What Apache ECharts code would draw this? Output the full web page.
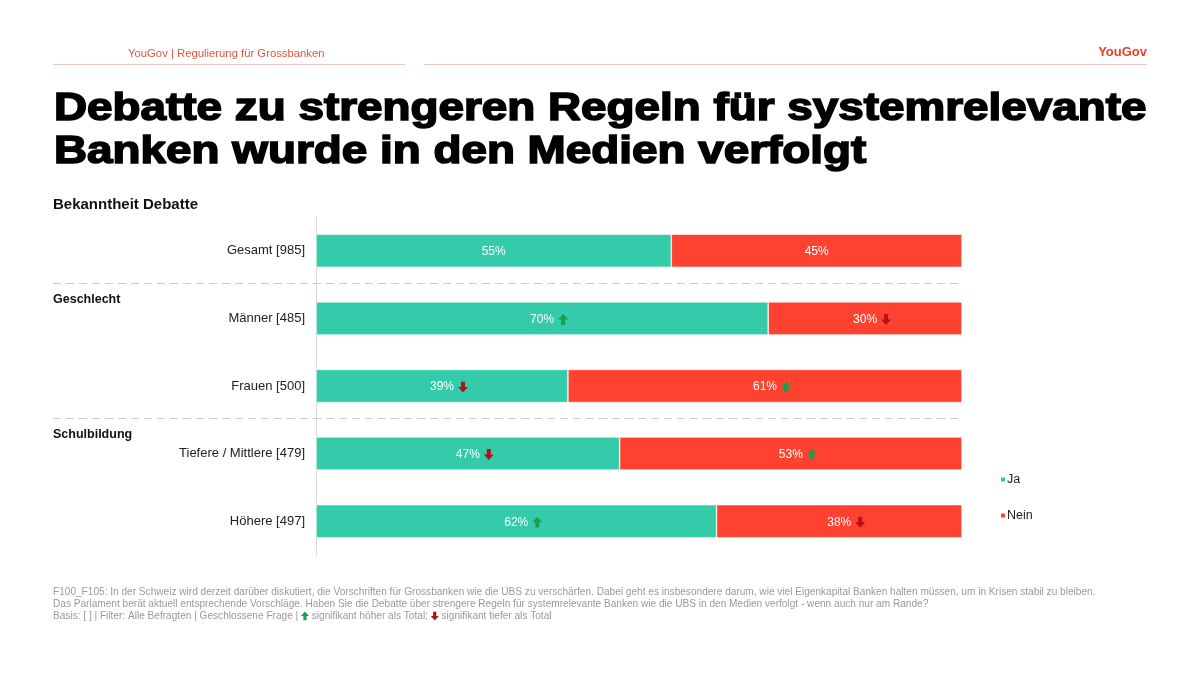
<!DOCTYPE html>
<html>
<head>
<meta charset="utf-8">
<script src="https://cdn.jsdelivr.net/npm/echarts@6/dist/echarts.min.js"></script>
<style>
html,body{margin:0;padding:0;background:#fff;}
#c{width:1200px;height:674px;}
</style>
</head>
<body>
<div id="c"></div>
<script>
const categories = ['Gesamt [985]', 'Männer [485]', 'Frauen [500]', 'Tiefere / Mittlere [479]', 'Höhere [497]'];
const jaValues = [55, 70, 39, 47, 62];
const neinValues = [45, 30, 61, 53, 38];
// significance markers: 1 = higher than total, -1 = lower than total, 0 = none
const jaSig = [0, 1, -1, -1, 1];
const neinSig = [0, -1, 1, 1, -1];

const upSvg = '<svg xmlns="http://www.w3.org/2000/svg" width="10" height="11" viewBox="0 0 10 11"><polygon points="5,0 10,5.5 7,5.5 7,11 3,11 3,5.5 0,5.5" fill="#1c9e50"/></svg>';
const downSvg = '<svg xmlns="http://www.w3.org/2000/svg" width="10" height="11" viewBox="0 0 10 11"><polygon points="3,0 7,0 7,5.5 10,5.5 5,11 0,5.5 3,5.5" fill="#b3121a"/></svg>';
const upURI = 'data:image/svg+xml;charset=utf-8,' + encodeURIComponent(upSvg);
const downURI = 'data:image/svg+xml;charset=utf-8,' + encodeURIComponent(downSvg);

const rich = {
  s: { width: 14 },
  v: { color: '#ffffff', fontSize: 12, fontFamily: 'Liberation Sans, Arial, sans-serif' },
  g: { width: 4 },
  up: { width: 10, height: 11, backgroundColor: { image: upURI } },
  dn: { width: 10, height: 11, backgroundColor: { image: downURI } }
};

function makeFormatter(sig) {
  return function (p) {
    const s = sig[p.dataIndex];
    const v = p.value + '%';
    if (s === 1) return '{s|}{v|' + v + '}{g|}{up|}';
    if (s === -1) return '{s|}{v|' + v + '}{g|}{dn|}';
    return '{v|' + v + '}';
  };
}

const chart = echarts.init(document.getElementById('c'), null, { renderer: 'canvas' });
const font = 'Liberation Sans, Arial, sans-serif';

const option = {
  backgroundColor: '#ffffff',
  animation: false,
  textStyle: { fontFamily: font },
  grid: { left: 316, right: 238, top: 217, bottom: 119, containLabel: false },
  xAxis: { type: 'value', min: 0, max: 100, show: false },
  yAxis: {
    type: 'category',
    data: categories,
    inverse: true,
    axisLine: { show: true, lineStyle: { color: '#d9d9d9', width: 1 } },
    axisTick: { show: false },
    axisLabel: { color: '#222', fontSize: 13, margin: 11, fontFamily: font }
  },
  legend: {
    orient: 'vertical',
    left: 994, top: 468,
    itemWidth: 6, itemHeight: 6, itemGap: 23,
    icon: 'rect',
    textStyle: { fontSize: 12.5, color: '#222', fontFamily: font, padding: [0, 0, 0, -4] },
    data: ['Ja', 'Nein']
  },
  series: [
    {
      name: 'Ja', type: 'bar', stack: 'total', data: jaValues,
      barCategoryGap: '51%',
      itemStyle: { color: '#33CBA9', borderColor: '#ffffff', borderWidth: 0.6 },
      label: { show: true, position: 'inside', offset: [0, 1], formatter: makeFormatter(jaSig), rich: rich }
    },
    {
      name: 'Nein', type: 'bar', stack: 'total', data: neinValues,
      itemStyle: { color: '#FF4130', borderColor: '#ffffff', borderWidth: 0.6 },
      label: { show: true, position: 'inside', offset: [0, 1], formatter: makeFormatter(neinSig), rich: rich }
    }
  ],
  graphic: [
    {
      type: 'text', x: 54, y: 88, scaleX: 1.175,
      style: {
        text: 'Debatte zu strengeren Regeln für systemrelevante\nBanken wurde in den Medien verfolgt',
        font: 'bold 39px ' + font, fill: '#000', lineHeight: 43,
        stroke: '#000', lineWidth: 1.6
      }
    },
    { type: 'text', left: 128, top: 48, style: { text: 'YouGov | Regulierung für Grossbanken', fill: '#e0573f', font: '11.3px ' + font } },
    { type: 'line', shape: { x1: 53, y1: 64.5, x2: 405, y2: 64.5 }, style: { stroke: '#efc6bd', lineWidth: 1 } },
    { type: 'line', shape: { x1: 424, y1: 64.5, x2: 1147, y2: 64.5 }, style: { stroke: '#efc6bd', lineWidth: 1 } },
    { type: 'text', right: 53, top: 46, style: { text: 'YouGov', fill: '#e8402c', font: 'bold 13px ' + font } },
    { type: 'text', left: 53, top: 197, style: { text: 'Bekanntheit Debatte', fill: '#111', font: 'bold 15px ' + font } },
    { type: 'line', shape: { x1: 53, y1: 283.5, x2: 960, y2: 283.5 }, style: { stroke: '#cccccc', lineWidth: 1, lineDash: [8, 5] } },
    { type: 'text', left: 53, top: 293, style: { text: 'Geschlecht', fill: '#111', font: 'bold 12.5px ' + font } },
    { type: 'line', shape: { x1: 53, y1: 418.5, x2: 960, y2: 418.5 }, style: { stroke: '#cccccc', lineWidth: 1, lineDash: [8, 5] } },
    { type: 'text', left: 53, top: 428, style: { text: 'Schulbildung', fill: '#111', font: 'bold 12.5px ' + font } },
    {
      type: 'text', left: 53, top: 586,
      style: {
        text: 'F100_F105: In der Schweiz wird derzeit darüber diskutiert, die Vorschriften für Grossbanken wie die UBS zu verschärfen. Dabei geht es insbesondere darum, wie viel Eigenkapital Banken halten müssen, um in Krisen stabil zu bleiben.\nDas Parlament berät aktuell entsprechende Vorschläge. Haben Sie die Debatte über strengere Regeln für systemrelevante Banken wie die UBS in den Medien verfolgt - wenn auch nur am Rande?\nBasis: [ ] | Filter: Alle Befragten | Geschlossene Frage | {up|} signifikant höher als Total; {dn|} signifikant tiefer als Total',
        fill: '#9a9a9a', font: '10.1px ' + font, lineHeight: 12,
        rich: {
          up: { width: 8, height: 9, backgroundColor: { image: upURI } },
          dn: { width: 8, height: 9, backgroundColor: { image: downURI } }
        }
      }
    }
  ]
};
chart.setOption(option);
</script>
</body>
</html>
